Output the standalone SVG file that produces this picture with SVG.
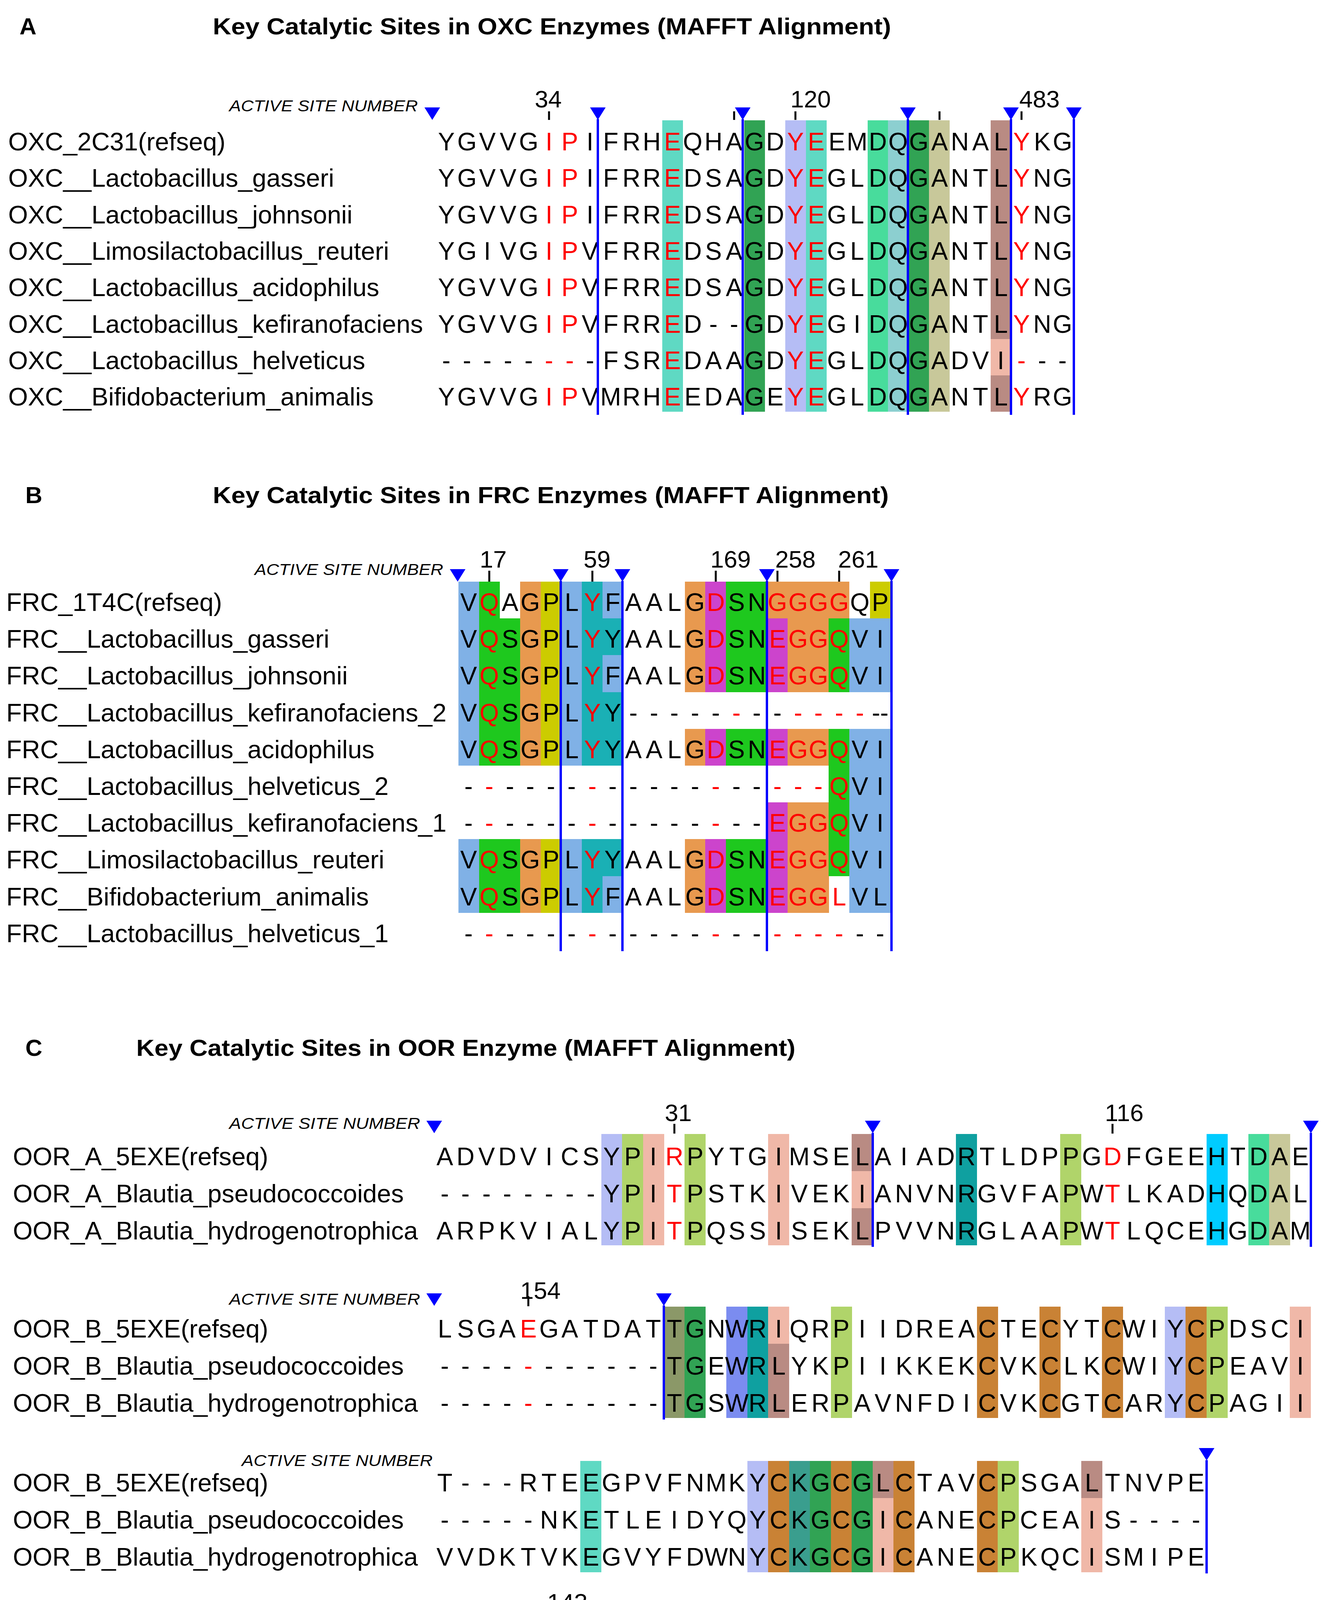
<svg xmlns="http://www.w3.org/2000/svg" xmlns:xlink="http://www.w3.org/1999/xlink" width="3406" height="5094" viewBox="0 0 3406 5094">
<style>
text{font-family:"Liberation Sans",Arial,sans-serif}
.s{font-size:64px;text-anchor:middle}
.n{font-size:65px}
.t{font-size:60px;font-weight:bold}
.a{font-size:40px;font-style:italic}
.num{font-size:62px;text-anchor:middle}
.r{fill:#ff0000}
.ln{stroke:#0000ff;stroke-width:6}
.tk{stroke:#000;stroke-width:5}
.bl{fill:#80b1e6}.gr{fill:#1ec81e}.or{fill:#e8994f}.ye{fill:#cccc00}.te{fill:#1ab0b5}.ma{fill:#cc44cc}
.tu{fill:#5fd9c3}.dg{fill:#31a354}.la{fill:#b5bdf5}.mg{fill:#48dc9c}.lt{fill:#8ccfd0}.kh{fill:#c8c89a}
.bp{fill:#b98b83}.pk{fill:#f0b8a8}.yg{fill:#b0d46a}.ct{fill:#0fa0a0}.cy{fill:#00ccff}.ol{fill:#8b9868}
.wb{fill:#7b8cf0}.cb{fill:#c98235}.tg{fill:#3a9e8e}.bt{fill:#10e0c0}.sg{fill:#6a9a70}
</style>
<defs>
<path id="tri" d="M-20,0 L20,0 L0,32 Z" fill="#0000ff"/>
</defs>
<rect width="3406" height="5094" fill="#fff"/>

<g id="panelA">
<text class="t" x="50" y="88">A</text>
<text class="t" x="545" y="88" textLength="1737" lengthAdjust="spacingAndGlyphs">Key Catalytic Sites in OXC Enzymes (MAFFT Alignment)</text>
<text class="a" x="587" y="285" textLength="483" lengthAdjust="spacingAndGlyphs">ACTIVE SITE NUMBER</text>
<g id="A-bg">
<rect class="tu" x="1696" y="308" width="53" height="746"/>
<rect class="dg" x="1906" y="308" width="53" height="746"/>
<rect class="la" x="2011" y="308" width="53" height="746"/>
<rect class="tu" x="2064" y="308" width="53" height="746"/>
<rect class="mg" x="2222" y="308" width="53" height="746"/>
<rect class="lt" x="2274" y="308" width="53" height="746"/>
<rect class="dg" x="2327" y="308" width="53" height="746"/>
<rect class="kh" x="2379" y="308" width="53" height="746"/>
<rect class="bp" x="2537" y="308" width="53" height="560"/>
<rect class="pk" x="2537" y="868" width="53" height="93"/>
<rect class="bp" x="2537" y="961" width="53" height="93"/>
</g>
<g id="A-names" class="n">
<text x="21" y="385">OXC_2C31(refseq)</text>
<text x="21" y="478">OXC__Lactobacillus_gasseri</text>
<text x="21" y="572">OXC__Lactobacillus_johnsonii</text>
<text x="21" y="665">OXC__Limosilactobacillus_reuteri</text>
<text x="21" y="758">OXC__Lactobacillus_acidophilus</text>
<text x="21" y="852">OXC__Lactobacillus_kefiranofaciens</text>
<text x="21" y="945">OXC__Lactobacillus_helveticus</text>
<text x="21" y="1038">OXC__Bifidobacterium_animalis</text>
</g>
<g id="A-seq" class="s">
<text y="385" x="1143 1196 1248 1301 1354 1406 1459 1511 1564 1617 1669 1722 1774 1827 1880 1932 1985 2037 2090 2143 2195 2248 2300 2353 2406 2458 2511 2563 2616 2669 2721">YGVVG<tspan class="r">IP</tspan>IFRH<tspan class="r">E</tspan>QHAGD<tspan class="r">YE</tspan>EMDQGANAL<tspan class="r">Y</tspan>KG</text>
<text y="478" x="1143 1196 1248 1301 1354 1406 1459 1511 1564 1617 1669 1722 1774 1827 1880 1932 1985 2037 2090 2143 2195 2248 2300 2353 2406 2458 2511 2563 2616 2669 2721">YGVVG<tspan class="r">IP</tspan>IFRR<tspan class="r">E</tspan>DSAGD<tspan class="r">YE</tspan>GLDQGANTL<tspan class="r">Y</tspan>NG</text>
<text y="572" x="1143 1196 1248 1301 1354 1406 1459 1511 1564 1617 1669 1722 1774 1827 1880 1932 1985 2037 2090 2143 2195 2248 2300 2353 2406 2458 2511 2563 2616 2669 2721">YGVVG<tspan class="r">IP</tspan>IFRR<tspan class="r">E</tspan>DSAGD<tspan class="r">YE</tspan>GLDQGANTL<tspan class="r">Y</tspan>NG</text>
<text y="665" x="1143 1196 1248 1301 1354 1406 1459 1511 1564 1617 1669 1722 1774 1827 1880 1932 1985 2037 2090 2143 2195 2248 2300 2353 2406 2458 2511 2563 2616 2669 2721">YGIVG<tspan class="r">IP</tspan>VFRR<tspan class="r">E</tspan>DSAGD<tspan class="r">YE</tspan>GLDQGANTL<tspan class="r">Y</tspan>NG</text>
<text y="758" x="1143 1196 1248 1301 1354 1406 1459 1511 1564 1617 1669 1722 1774 1827 1880 1932 1985 2037 2090 2143 2195 2248 2300 2353 2406 2458 2511 2563 2616 2669 2721">YGVVG<tspan class="r">IP</tspan>VFRR<tspan class="r">E</tspan>DSAGD<tspan class="r">YE</tspan>GLDQGANTL<tspan class="r">Y</tspan>NG</text>
<text y="852" x="1143 1196 1248 1301 1354 1406 1459 1511 1564 1617 1669 1722 1774 1827 1880 1932 1985 2037 2090 2143 2195 2248 2300 2353 2406 2458 2511 2563 2616 2669 2721">YGVVG<tspan class="r">IP</tspan>VFRR<tspan class="r">E</tspan>D--GD<tspan class="r">YE</tspan>GIDQGANTL<tspan class="r">Y</tspan>NG</text>
<text y="945" x="1143 1196 1248 1301 1354 1406 1459 1511 1564 1617 1669 1722 1774 1827 1880 1932 1985 2037 2090 2143 2195 2248 2300 2353 2406 2458 2511 2563 2616 2669 2721">-----<tspan class="r">--</tspan>-FSR<tspan class="r">E</tspan>DAAGD<tspan class="r">YE</tspan>GLDQGADVI<tspan class="r">-</tspan>--</text>
<text y="1038" x="1143 1196 1248 1301 1354 1406 1459 1511 1564 1617 1669 1722 1774 1827 1880 1932 1985 2037 2090 2143 2195 2248 2300 2353 2406 2458 2511 2563 2616 2669 2721">YGVVG<tspan class="r">IP</tspan>VMRH<tspan class="r">E</tspan>EDAGE<tspan class="r">YE</tspan>GLDQGANTL<tspan class="r">Y</tspan>RG</text>
</g>
<g id="A-marks">
<text class="num" x="1404" y="275">34</text>
<text class="num" x="2076" y="275">120</text>
<text class="num" x="2662" y="275">483</text>
<line class="tk" x1="1406" y1="285" x2="1406" y2="307"/>
<line class="tk" x1="1880" y1="285" x2="1880" y2="307"/>
<line class="tk" x1="2037" y1="285" x2="2037" y2="307"/>
<line class="tk" x1="2406" y1="285" x2="2406" y2="307"/>
<line class="tk" x1="2616" y1="285" x2="2616" y2="307"/>
</g>
</g>

<g id="panelB">
<text class="t" x="65" y="1288">B</text>
<text class="t" x="545" y="1288" textLength="1731" lengthAdjust="spacingAndGlyphs">Key Catalytic Sites in FRC Enzymes (MAFFT Alignment)</text>
<text class="a" x="652" y="1472" textLength="483" lengthAdjust="spacingAndGlyphs">ACTIVE SITE NUMBER</text>
<g id="B-bg">
<rect class="bl" x="1174" y="1489" width="53" height="471"/><rect class="bl" x="1174" y="2148" width="53" height="189"/>
<rect class="gr" x="1227" y="1489" width="53" height="471"/><rect class="gr" x="1227" y="2148" width="53" height="189"/>
<rect class="gr" x="1279" y="1583" width="53" height="377"/><rect class="gr" x="1279" y="2148" width="53" height="189"/>
<rect class="or" x="1332" y="1489" width="53" height="471"/><rect class="or" x="1332" y="2148" width="53" height="189"/>
<rect class="ye" x="1385" y="1489" width="53" height="471"/><rect class="ye" x="1385" y="2148" width="53" height="189"/>
<rect class="bl" x="1438" y="1489" width="53" height="471"/><rect class="bl" x="1438" y="2148" width="53" height="189"/>
<rect class="te" x="1490" y="1489" width="53" height="471"/><rect class="te" x="1490" y="2148" width="53" height="189"/>
<rect class="bl" x="1543" y="1489" width="53" height="94"/>
<rect class="te" x="1543" y="1583" width="53" height="94"/>
<rect class="bl" x="1543" y="1677" width="53" height="95"/>
<rect class="te" x="1543" y="1772" width="53" height="188"/>
<rect class="te" x="1543" y="2148" width="53" height="95"/>
<rect class="bl" x="1543" y="2243" width="53" height="94"/>
<rect class="or" x="1754" y="1489" width="53" height="283"/><rect class="or" x="1754" y="1866" width="53" height="94"/><rect class="or" x="1754" y="2148" width="53" height="189"/>
<rect class="ma" x="1806" y="1489" width="53" height="283"/><rect class="ma" x="1806" y="1866" width="53" height="94"/><rect class="ma" x="1806" y="2148" width="53" height="189"/>
<rect class="gr" x="1859" y="1489" width="106" height="283"/><rect class="gr" x="1859" y="1866" width="106" height="94"/><rect class="gr" x="1859" y="2148" width="106" height="189"/>
<rect class="or" x="1964" y="1489" width="53" height="94"/>
<rect class="ma" x="1964" y="1583" width="53" height="189"/><rect class="ma" x="1964" y="1866" width="53" height="94"/><rect class="ma" x="1964" y="2054" width="53" height="283"/>
<rect class="or" x="2017" y="1489" width="106" height="283"/><rect class="or" x="2017" y="1866" width="106" height="94"/><rect class="or" x="2017" y="2054" width="106" height="283"/>
<rect class="or" x="2122" y="1489" width="53" height="94"/>
<rect class="gr" x="2122" y="1583" width="53" height="189"/><rect class="gr" x="2122" y="1866" width="53" height="377"/>
<rect class="bl" x="2175" y="1583" width="106" height="189"/><rect class="bl" x="2175" y="1866" width="106" height="471"/>
<rect class="ye" x="2228" y="1489" width="53" height="94"/>
</g>
<g id="B-names" class="n">
<text x="16" y="1564">FRC_1T4C(refseq)</text>
<text x="16" y="1658">FRC__Lactobacillus_gasseri</text>
<text x="16" y="1752">FRC__Lactobacillus_johnsonii</text>
<text x="16" y="1847">FRC__Lactobacillus_kefiranofaciens_2</text>
<text x="16" y="1941">FRC__Lactobacillus_acidophilus</text>
<text x="16" y="2035">FRC__Lactobacillus_helveticus_2</text>
<text x="16" y="2129">FRC__Lactobacillus_kefiranofaciens_1</text>
<text x="16" y="2223">FRC__Limosilactobacillus_reuteri</text>
<text x="16" y="2318">FRC__Bifidobacterium_animalis</text>
<text x="16" y="2412">FRC__Lactobacillus_helveticus_1</text>
</g>
<g id="B-seq" class="s">
<text y="1564" x="1200 1253 1306 1358 1411 1464 1517 1569 1622 1675 1727 1780 1833 1886 1938 1991 2044 2096 2149 2202 2254">V<tspan class="r">Q</tspan>AGPL<tspan class="r">Y</tspan>FAALG<tspan class="r">D</tspan>SN<tspan class="r">GGGG</tspan>QP</text>
<text y="1658" x="1200 1253 1306 1358 1411 1464 1517 1569 1622 1675 1727 1780 1833 1886 1938 1991 2044 2096 2149 2202 2254">V<tspan class="r">Q</tspan>SGPL<tspan class="r">Y</tspan>YAALG<tspan class="r">D</tspan>SN<tspan class="r">EGGQ</tspan>VI</text>
<text y="1752" x="1200 1253 1306 1358 1411 1464 1517 1569 1622 1675 1727 1780 1833 1886 1938 1991 2044 2096 2149 2202 2254">V<tspan class="r">Q</tspan>SGPL<tspan class="r">Y</tspan>FAALG<tspan class="r">D</tspan>SN<tspan class="r">EGGQ</tspan>VI</text>
<text y="1847" x="1200 1253 1306 1358 1411 1464 1517 1569 1622 1675 1727 1780 1833 1886 1938 1991 2044 2096 2149 2202 2254">V<tspan class="r">Q</tspan>SGPL<tspan class="r">Y</tspan>Y-----<tspan class="r">-</tspan>--<tspan class="r">----</tspan>--</text>
<text y="1941" x="1200 1253 1306 1358 1411 1464 1517 1569 1622 1675 1727 1780 1833 1886 1938 1991 2044 2096 2149 2202 2254">V<tspan class="r">Q</tspan>SGPL<tspan class="r">Y</tspan>YAALG<tspan class="r">D</tspan>SN<tspan class="r">EGGQ</tspan>VI</text>
<text y="2035" x="1200 1253 1306 1358 1411 1464 1517 1569 1622 1675 1727 1780 1833 1886 1938 1991 2044 2096 2149 2202 2254">-<tspan class="r">-</tspan>----<tspan class="r">-</tspan>-----<tspan class="r">-</tspan>--<tspan class="r">---Q</tspan>VI</text>
<text y="2129" x="1200 1253 1306 1358 1411 1464 1517 1569 1622 1675 1727 1780 1833 1886 1938 1991 2044 2096 2149 2202 2254">-<tspan class="r">-</tspan>----<tspan class="r">-</tspan>-----<tspan class="r">-</tspan>--<tspan class="r">EGGQ</tspan>VI</text>
<text y="2223" x="1200 1253 1306 1358 1411 1464 1517 1569 1622 1675 1727 1780 1833 1886 1938 1991 2044 2096 2149 2202 2254">V<tspan class="r">Q</tspan>SGPL<tspan class="r">Y</tspan>YAALG<tspan class="r">D</tspan>SN<tspan class="r">EGGQ</tspan>VI</text>
<text y="2318" x="1200 1253 1306 1358 1411 1464 1517 1569 1622 1675 1727 1780 1833 1886 1938 1991 2044 2096 2149 2202 2254">V<tspan class="r">Q</tspan>SGPL<tspan class="r">Y</tspan>FAALG<tspan class="r">D</tspan>SN<tspan class="r">EGGL</tspan>VL</text>
<text y="2412" x="1200 1253 1306 1358 1411 1464 1517 1569 1622 1675 1727 1780 1833 1886 1938 1991 2044 2096 2149 2202 2254">-<tspan class="r">-</tspan>----<tspan class="r">-</tspan>-----<tspan class="r">-</tspan>--<tspan class="r">----</tspan>--</text>
</g>
<g id="B-marks">
<text class="num" x="1263" y="1453">17</text>
<text class="num" x="1529" y="1453">59</text>
<text class="num" x="1871" y="1453">169</text>
<text class="num" x="2037" y="1453">258</text>
<text class="num" x="2198" y="1453">261</text>
<line class="tk" x1="1253" y1="1461" x2="1253" y2="1489"/>
<line class="tk" x1="1517" y1="1461" x2="1517" y2="1489"/>
<line class="tk" x1="1833" y1="1461" x2="1833" y2="1489"/>
<line class="tk" x1="1991" y1="1461" x2="1991" y2="1489"/>
<line class="tk" x1="2149" y1="1461" x2="2149" y2="1489"/>
</g>
</g>

<g id="panelC">
<text class="t" x="65" y="2703">C</text>
<text class="t" x="349" y="2703" textLength="1688" lengthAdjust="spacingAndGlyphs">Key Catalytic Sites in OOR Enzyme (MAFFT Alignment)</text>
<g id="C1">
<text class="a" x="587" y="2890" textLength="489" lengthAdjust="spacingAndGlyphs">ACTIVE SITE NUMBER</text>
<rect class="la" x="1540" y="2903" width="54" height="285"/>
<rect class="yg" x="1593" y="2903" width="54" height="285"/>
<rect class="pk" x="1647" y="2903" width="54" height="285"/>
<rect class="yg" x="1753" y="2903" width="54" height="285"/>
<rect class="pk" x="1967" y="2903" width="54" height="285"/>
<rect class="bp" x="2181" y="2903" width="54" height="95"/>
<rect class="pk" x="2181" y="2998" width="54" height="95"/>
<rect class="bp" x="2181" y="3093" width="54" height="95"/>
<rect class="ct" x="2448" y="2903" width="54" height="285"/>
<rect class="yg" x="2715" y="2903" width="54" height="285"/>
<rect class="cy" x="3090" y="2903" width="54" height="285"/>
<rect class="mg" x="3197" y="2903" width="54" height="285"/>
<rect class="kh" x="3250" y="2903" width="54" height="285"/>
<g class="n">
<text x="33" y="2983">OOR_A_5EXE(refseq)</text>
<text x="33" y="3078">OOR_A_Blautia_pseudococcoides</text>
<text x="33" y="3173">OOR_A_Blautia_hydrogenotrophica</text>
</g>
<g class="s">
<text y="2983" x="1139 1192 1246 1299 1353 1406 1459 1513 1566 1620 1673 1727 1780 1834 1887 1940 1994 2047 2101 2154 2208 2261 2315 2368 2422 2475 2528 2582 2635 2689 2742 2796 2849 2903 2956 3010 3063 3116 3170 3223 3277 3330">ADVDVICSYPI<tspan class="r">R</tspan>PYTGIMSELAIADRTLDPPG<tspan class="r">D</tspan>FGEEHTDAE</text>
<text y="3078" x="1139 1192 1246 1299 1353 1406 1459 1513 1566 1620 1673 1727 1780 1834 1887 1940 1994 2047 2101 2154 2208 2261 2315 2368 2422 2475 2528 2582 2635 2689 2742 2796 2849 2903 2956 3010 3063 3116 3170 3223 3277 3330">--------YPI<tspan class="r">T</tspan>PSTKIVEKIANVNRGVFAPW<tspan class="r">T</tspan>LKADHQDAL</text>
<text y="3173" x="1139 1192 1246 1299 1353 1406 1459 1513 1566 1620 1673 1727 1780 1834 1887 1940 1994 2047 2101 2154 2208 2261 2315 2368 2422 2475 2528 2582 2635 2689 2742 2796 2849 2903 2956 3010 3063 3116 3170 3223 3277 3330">ARPKVIALYPI<tspan class="r">T</tspan>PQSSISEKLPVVNRGLAAPW<tspan class="r">T</tspan>LQCEHGDAM</text>
</g>
<text class="num" x="1737" y="2870">31</text>
<text class="num" x="2879" y="2870">116</text>
<line class="tk" x1="1727" y1="2877" x2="1727" y2="2902"/>
<line class="tk" x1="2849" y1="2877" x2="2849" y2="2902"/>
</g>
<g id="C2">
<text class="a" x="587" y="3340" textLength="489" lengthAdjust="spacingAndGlyphs">ACTIVE SITE NUMBER</text>
<rect class="ol" x="1700" y="3345" width="54" height="285"/>
<rect class="dg" x="1753" y="3345" width="54" height="285"/>
<rect class="wb" x="1860" y="3345" width="54" height="285"/>
<rect class="ct" x="1914" y="3345" width="54" height="285"/>
<rect class="pk" x="1967" y="3345" width="54" height="95"/>
<rect class="bp" x="1967" y="3440" width="54" height="190"/>
<rect class="yg" x="2128" y="3345" width="54" height="285"/>
<rect class="cb" x="2502" y="3345" width="54" height="285"/>
<rect class="cb" x="2662" y="3345" width="54" height="285"/>
<rect class="cb" x="2822" y="3345" width="54" height="285"/>
<rect class="la" x="2983" y="3345" width="54" height="285"/>
<rect class="cb" x="3036" y="3345" width="54" height="285"/>
<rect class="yg" x="3090" y="3345" width="54" height="285"/>
<rect class="pk" x="3303" y="3345" width="54" height="285"/>
<g class="n">
<text x="33" y="3424">OOR_B_5EXE(refseq)</text>
<text x="33" y="3519">OOR_B_Blautia_pseudococcoides</text>
<text x="33" y="3614">OOR_B_Blautia_hydrogenotrophica</text>
</g>
<g class="s">
<text y="3424" x="1139 1192 1246 1299 1353 1406 1459 1513 1566 1620 1673 1727 1780 1834 1887 1940 1994 2047 2101 2154 2208 2261 2315 2368 2422 2475 2528 2582 2635 2689 2742 2796 2849 2903 2956 3010 3063 3116 3170 3223 3277 3330">LSGA<tspan class="r">E</tspan>GATDATTGNWRIQRPIIDREACTECYTCWIYCPDSCI</text>
<text y="3519" x="1139 1192 1246 1299 1353 1406 1459 1513 1566 1620 1673 1727 1780 1834 1887 1940 1994 2047 2101 2154 2208 2261 2315 2368 2422 2475 2528 2582 2635 2689 2742 2796 2849 2903 2956 3010 3063 3116 3170 3223 3277 3330">----<tspan class="r">-</tspan>------TGEWRLYKPIIKKEKCVKCLKCWIYCPEAVI</text>
<text y="3614" x="1139 1192 1246 1299 1353 1406 1459 1513 1566 1620 1673 1727 1780 1834 1887 1940 1994 2047 2101 2154 2208 2261 2315 2368 2422 2475 2528 2582 2635 2689 2742 2796 2849 2903 2956 3010 3063 3116 3170 3223 3277 3330">----<tspan class="r">-</tspan>------TGSWRLERPAVNFDICVKCGTCARYCPAGII</text>
</g>
<text class="num" x="1384" y="3325">154</text>
<line class="tk" x1="1353" y1="3318" x2="1353" y2="3344"/>
</g>
<g id="C3">
<text class="a" x="619" y="3753" textLength="489" lengthAdjust="spacingAndGlyphs">ACTIVE SITE NUMBER</text>
<rect class="tu" x="1486" y="3740" width="54" height="285"/>
<rect class="la" x="1914" y="3740" width="54" height="285"/>
<rect class="cb" x="1967" y="3740" width="54" height="285"/>
<rect class="tg" x="2021" y="3740" width="54" height="285"/>
<rect class="dg" x="2074" y="3740" width="54" height="285"/>
<rect class="cb" x="2128" y="3740" width="54" height="285"/>
<rect class="dg" x="2181" y="3740" width="54" height="285"/>
<rect class="bp" x="2235" y="3740" width="54" height="95"/>
<rect class="pk" x="2235" y="3835" width="54" height="190"/>
<rect class="cb" x="2288" y="3740" width="54" height="285"/>
<rect class="cb" x="2502" y="3740" width="54" height="285"/>
<rect class="yg" x="2555" y="3740" width="54" height="285"/>
<rect class="bp" x="2769" y="3740" width="54" height="95"/>
<rect class="pk" x="2769" y="3835" width="54" height="190"/>
<g class="n">
<text x="33" y="3818">OOR_B_5EXE(refseq)</text>
<text x="33" y="3913">OOR_B_Blautia_pseudococcoides</text>
<text x="33" y="4008">OOR_B_Blautia_hydrogenotrophica</text>
</g>
<g class="s">
<text y="3818" x="1139 1192 1246 1299 1353 1406 1459 1513 1566 1620 1673 1727 1780 1834 1887 1940 1994 2047 2101 2154 2208 2261 2315 2368 2422 2475 2528 2582 2635 2689 2742 2796 2849 2903 2956 3010 3063">T---RTEEGPVFNMKYCKGCGLCTAVCPSGALTNVPE</text>
<text y="3913" x="1139 1192 1246 1299 1353 1406 1459 1513 1566 1620 1673 1727 1780 1834 1887 1940 1994 2047 2101 2154 2208 2261 2315 2368 2422 2475 2528 2582 2635 2689 2742 2796 2849 2903 2956 3010 3063">-----NKETLEIDYQYCKGCGICANECPCEAIS----</text>
<text y="4008" x="1139 1192 1246 1299 1353 1406 1459 1513 1566 1620 1673 1727 1780 1834 1887 1940 1994 2047 2101 2154 2208 2261 2315 2368 2422 2475 2528 2582 2635 2689 2742 2796 2849 2903 2956 3010 3063">VVDKTVKEGVYFDWNYCKGCGICANECPKQCISMIPE</text>
</g>
</g>
<g id="C4">
<text class="a" x="610" y="4155" textLength="485" lengthAdjust="spacingAndGlyphs">ACTIVE SITE NUMBER</text>
<rect class="bt" x="1128" y="4158" width="54" height="276"/>
<rect class="tu" x="1182" y="4158" width="54" height="276"/>
<rect class="la" x="1289" y="4158" width="54" height="276"/>
<rect class="bt" x="1396" y="4158" width="54" height="276"/>
<rect class="ol" x="1450" y="4158" width="54" height="276"/>
<rect class="dg" x="1503" y="4158" width="54" height="276"/>
<rect class="pk" x="1557" y="4158" width="54" height="92"/>
<rect class="bp" x="1557" y="4250" width="54" height="92"/>
<rect class="pk" x="1557" y="4342" width="54" height="92"/>
<rect class="lt" x="1610" y="4158" width="54" height="276"/>
<rect class="sg" x="1718" y="4158" width="54" height="276"/>
<rect class="ol" x="1878" y="4158" width="54" height="276"/>
<rect class="yg" x="1932" y="4158" width="54" height="276"/>
<rect class="ol" x="2200" y="4158" width="108" height="276"/>
<rect class="ol" x="2361" y="4158" width="54" height="276"/>
<rect class="yg" x="2414" y="4158" width="54" height="276"/>
<g class="n">
<text x="49" y="4235">OOR_C_5EXE(refseq)</text>
<text x="49" y="4327">OOR_C_Blautia_pseudococcoides</text>
<text x="49" y="4419">OOR_C_Blautia_hydrogenotrophica</text>
</g>
<g class="s">
<text y="4235" x="1155 1208 1262 1316 1369 1423 1476 1530 1584 1637 1691 1744 1798 1852 1905 1959 2012 2066 2120 2173 2227 2280 2334 2388 2441">NESYA<tspan class="r">N</tspan>TGIQTSPTTPYGANTTFTP</text>
<text y="4327" x="1155 1208 1262 1316 1369 1423 1476 1530 1584 1637 1691 1744 1798 1852 1905 1959 2012 2066 2120 2173 2227 2280 2334 2388 2441">NEAYV<tspan class="r">N</tspan>TGLQRSGATPRYCYTTTTP</text>
<text y="4419" x="1155 1208 1262 1316 1369 1423 1476 1530 1584 1637 1691 1744 1798 1852 1905 1959 2012 2066 2120 2173 2227 2280 2334 2388 2441">NEAYM<tspan class="r">N</tspan>TGIQGSSSTPYMASTTTTP</text>
</g>
<text class="num" x="1453" y="4123">143</text>
<line class="tk" x1="1423" y1="4128" x2="1423" y2="4157"/>
</g>
</g>

<g id="panelD">
<text class="t" x="59" y="4701">D</text>
<text class="t" x="293" y="4701" textLength="1712" lengthAdjust="spacingAndGlyphs">Key Catalytic Sites OXDC Enzymes (MAFFT Alignment)</text>
<text class="a" x="369" y="4857" style="font-size:36px" textLength="425" lengthAdjust="spacingAndGlyphs">ACTIVE SITE NUMBER</text>
<rect class="bl" x="919" y="4883" width="49" height="190"/>
<rect class="te" x="968" y="4883" width="49" height="190"/>
<rect class="te" x="1066" y="4883" width="49" height="190"/>
<rect class="bl" x="1212" y="4883" width="49" height="190"/>
<rect class="ma" x="1261" y="4883" width="49" height="95"/>
<rect class="gr" x="1261" y="4978" width="49" height="95"/>
<rect class="bl" x="1309" y="4883" width="49" height="190"/>
<g class="n">
<text x="33" y="4960">OXDC_1UW8(refseq)</text>
<text x="33" y="5055" textLength="787" lengthAdjust="spacingAndGlyphs">OXDC_Lachnospira_eligens</text>
</g>
<g class="s">
<text y="4960" x="846 895 944 992 1041 1090 1139 1187 1236 1285 1333 1382 1431 1479 1528 1577 1626 1674 1723 1772 1820 1869 1918 1966">REL<tspan class="r">H</tspan>W<tspan class="r">H</tspan>KEA<tspan class="r">E</tspan>WFS<tspan class="r">E</tspan>NFL<tspan class="r">E</tspan>IFKDDH</text>
<text y="5055" x="846 895 944 992 1041 1090 1139 1187 1236 1285 1333 1382 1431 1479 1528 1577 1626 1674 1723 1772 1820 1869 1918 1966">GNF<tspan class="r">H</tspan>S<tspan class="r">H</tspan>KHL<tspan class="r">Q</tspan>I--<tspan class="r">-</tspan>---<tspan class="r">-</tspan>------</text>
</g>
<text class="num" x="992" y="4848">95</text>
<text class="num" x="1098" y="4848">97</text>
<text class="num" x="1308" y="4848">101</text>
<text class="num" x="1514" y="4848">162</text>
<text class="num" x="1703" y="4848">333</text>
<line class="tk" x1="992" y1="4855" x2="992" y2="4883"/>
<line class="tk" x1="1090" y1="4855" x2="1090" y2="4883"/>
<line class="tk" x1="1285" y1="4855" x2="1285" y2="4883"/>
<line class="tk" x1="1479" y1="4855" x2="1479" y2="4883"/>
<line class="tk" x1="1674" y1="4855" x2="1674" y2="4883"/>
</g>

<g id="connectors">
<line class="ln" x1="1531" y1="305" x2="1531" y2="1062"/>
<line class="ln" x1="1902" y1="305" x2="1902" y2="1062"/>
<line class="ln" x1="2325" y1="305" x2="2325" y2="1062"/>
<line class="ln" x1="2589" y1="305" x2="2589" y2="1062"/>
<line class="ln" x1="2750" y1="305" x2="2750" y2="1062"/>
<use href="#tri" x="1107" y="275"/><use href="#tri" x="1531" y="275"/><use href="#tri" x="1902" y="275"/><use href="#tri" x="2325" y="275"/><use href="#tri" x="2589" y="275"/><use href="#tri" x="2750" y="275"/>
<line class="ln" x1="1436" y1="1487" x2="1436" y2="2435"/>
<line class="ln" x1="1594" y1="1487" x2="1594" y2="2435"/>
<line class="ln" x1="1964" y1="1487" x2="1964" y2="2435"/>
<line class="ln" x1="2283" y1="1487" x2="2283" y2="2435"/>
<use href="#tri" x="1172" y="1457"/><use href="#tri" x="1436" y="1457"/><use href="#tri" x="1594" y="1457"/><use href="#tri" x="1964" y="1457"/><use href="#tri" x="2283" y="1457"/>
<line class="ln" x1="2235" y1="2900" x2="2235" y2="3192"/>
<line class="ln" x1="3357" y1="2900" x2="3357" y2="3192"/>
<use href="#tri" x="1112" y="2869"/><use href="#tri" x="2235" y="2869"/><use href="#tri" x="3357" y="2869"/>
<line class="ln" x1="1700" y1="3342" x2="1700" y2="3634"/>
<use href="#tri" x="1112" y="3311"/><use href="#tri" x="1700" y="3311"/>
<line class="ln" x1="3090" y1="3738" x2="3090" y2="4028"/>
<use href="#tri" x="3090" y="3707"/>
<use href="#tri" x="1125" y="4125"/><use href="#tri" x="2466" y="4125"/>
<line class="ln" x1="1358" y1="4880" x2="1358" y2="5077"/>
<line class="ln" x1="1552" y1="4880" x2="1552" y2="5077"/>
<line class="ln" x1="1991" y1="4880" x2="1991" y2="5077"/>
<use href="#tri" x="817" y="4850"/><use href="#tri" x="1358" y="4850"/><use href="#tri" x="1552" y="4850"/><use href="#tri" x="1991" y="4850"/>
</g>
</svg>
